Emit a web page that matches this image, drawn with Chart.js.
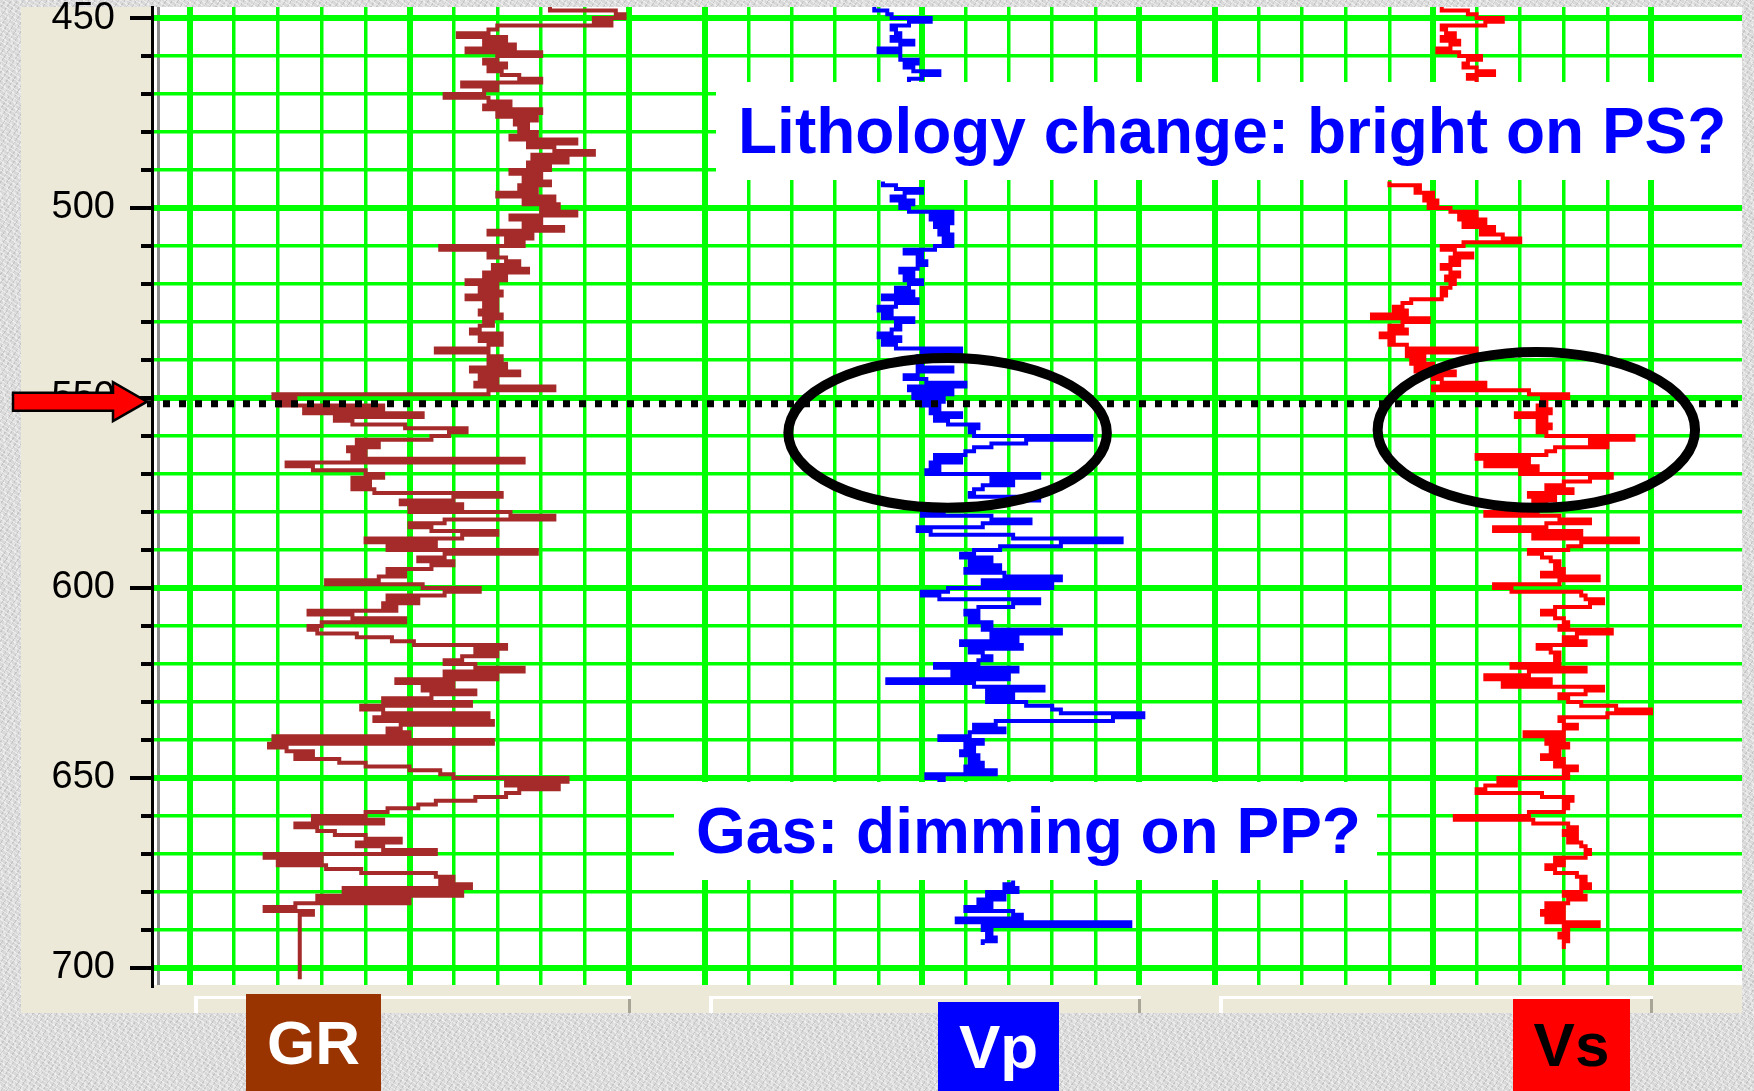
<!DOCTYPE html>
<html>
<head>
<meta charset="utf-8">
<title>Well logs: GR, Vp, Vs</title>
<script src="https://cdn.jsdelivr.net/npm/chart.js@4.4.1/dist/chart.umd.min.js"></script>
<style>
  html, body { margin: 0; padding: 0; }
  body {
    width: 1754px;
    height: 1091px;
    overflow: hidden;
    position: relative;
    background-color: #d9d9d9;
    background-image:
      repeating-linear-gradient(33deg, rgba(255,255,255,0.45) 0 1px, transparent 1px 4px),
      repeating-linear-gradient(-57deg, rgba(150,150,150,0.30) 0 1px, transparent 1px 5px),
      repeating-linear-gradient(81deg, rgba(245,245,245,0.40) 0 2px, transparent 2px 7px);
    font-family: "Liberation Sans", Arial, sans-serif;
  }
  canvas { position: absolute; left: 0; top: 0; }
  .note {
    position: absolute;
    box-sizing: border-box;
    background: #ffffff;
    color: #0000ff;
    font-weight: bold;
    font-size: 64px;
    white-space: nowrap;
    padding-left: 22px;
  }
  .tag {
    position: absolute;
    font-weight: bold;
    font-size: 62px;
    text-align: center;
  }
</style>
</head>
<body>
<canvas id="logChart" width="1754" height="1091"></canvas>

<div class="note" style="left:716px; top:82px; width:1026px; height:98px; line-height:98px;">Lithology change: bright on PS?</div>
<div class="note" style="left:674px; top:782px; width:703px; height:98px; line-height:98px;">Gas: dimming on PP?</div>

<div class="tag" style="left:246px; top:994px; width:135px; height:97px; line-height:97px; background:#993300; color:#ffffff;">GR</div>
<div class="tag" style="left:938px; top:1002px; width:121px; height:89px; line-height:89px; background:#0000ff; color:#ffffff;">Vp</div>
<div class="tag" style="left:1513px; top:999px; width:117px; height:92px; line-height:92px; background:#ff0000; color:#000000;">Vs</div>

<script>
// depth axis (m), reversed
const depthTicks = [450, 460, 470, 480, 490, 500, 510, 520, 530, 540, 550, 560, 570,
    580, 590, 600, 610, 620, 630, 640, 650, 660, 670, 680, 690, 700];
const majorDepths = [450, 500, 550, 600, 650, 700];
const trackTicks = [0, 10, 20, 30, 40, 50, 60, 70, 80, 90, 100];

// logs are sampled every metre from logStart down; null = hidden under a note box
const logStart = 447;
const sampleStep = 1;

const grValues = [
    82, 97, 99, 92, 96, 70, 68, 61, 72, 67,
    74, 63, 80, 70, 67, 72, 68, 71, 75, 80,
    62, 70, 67, 58, 68, 73, 67, 80, 70, 79,
    74, 77, 75, 79, 73, 88, 77, 83, 92, 78,
    86, 77, 82, 73, 80, 76, 82, 75, 79, 70,
    83, 76, 84, 80, 88, 73, 80, 76, 85, 68,
    78, 72, 76, 57, 70, 68, 72, 75, 69, 77,
    67, 72, 63, 70, 66, 71, 63, 70, 67, 70,
    66, 71, 67, 69, 66, 64, 71, 66, 71, 68,
    56, 68, 71, 68, 72, 64, 75, 66, 70, 65,
    83, 68, 19, 24, 20, 44, 26, 53, 33, 37,
    49, 63, 59, 55, 38, 43, 36, 40, 37, 76,
    22, 28, 40, 44, 37, 41, 37, 42, 71, 60,
    48, 62, 50, 73, 83, 58, 50, 55, 70, 62,
    40, 56, 45, 79, 58, 52, 60, 55, 45, 49,
    43, 31, 53, 66, 58, 45, 52, 44, 47, 27,
    37, 49, 30, 27, 29, 38, 46, 51, 72, 65,
    70, 62, 58, 65, 76, 58, 70, 47, 60, 53,
    65, 55, 44, 64, 39, 44, 68, 42, 69, 48,
    45, 50, 19, 69, 18, 22, 28, 24, 34, 40,
    50, 57, 60, 86, 72, 84, 75, 72, 65, 56,
    52, 45, 40, 28, 44, 24, 29, 33, 40, 48,
    38, 44, 56, 17, 30, 20, 31, 39, 56, 60,
    57, 64, 35, 62, 29, 50, 24, 17, 28, 25,
    25, 25, 25, 25, 25, 25, 25, 25, 25, 25,
    25, 25, 25, 25, 25, 25, 25
];

const vpValues = [
    39, 42, 43, 52, 47, 43, 44, 45, 43, 48,
    45, 40, 45, 45, 49, 46, 48, 54, 50, 47,
    47, null, null, null, null, null, null, null, null, null,
    null, null, null, null, null, null, null, null, null, null,
    null, null, null, null, null, null, 41, 44, 50, 46,
    43, 48, 45, 47, 57, 52, 57, 53, 56, 54,
    57, 55, 57, 53, 46, 50, 49, 51, 49, 45,
    48, 46, 50, 47, 44, 48, 41, 49, 44, 40,
    43, 41, 48, 44, 45, 43, 40, 45, 41, 44,
    59, 50, 49, 50, 49, 57, 49, 46, 51, 60,
    47, 57, 48, 55, 50, 54, 52, 59, 53, 56,
    63, 61, 62, 89, 74, 66, 62, 60, 53, 59,
    52, 54, 51, 77, 66, 71, 64, 62, 61, 77,
    70, 64, 55, 50, 66, 75, 64, 49, 52, 71,
    96, 82, 68, 62, 59, 66, 61, 68, 60, 69,
    82, 64, 80, 56, 50, 54, 77, 71, 63, 60,
    63, 61, 66, 64, 82, 66, 72, 59, 73, 61,
    64, 66, 63, 53, 72, 57, 70, 42, 62, 78,
    65, 71, 65, 74, 80, 82, 101, 94, 67, 62,
    69, 61, 54, 64, 60, 62, 59, 63, 61, 64,
    60, 67, 51, 55, 54, 54, null, null, null, null,
    null, null, null, null, null, null, null, null, null, null,
    null, null, null, null, null, null, null, null, null, null,
    71, 69, 72, 65, 69, 63, 66, 60, 71, 73,
    58, 98, 64, 66, 65, 67, 64, 64
];

const vsValues = [
    52, 58, 60, 66, 62, 52, 53, 55, 52, 56,
    54, 51, 56, 61, 58, 57, 60, 64, 58, 60,
    60, null, null, null, null, null, null, null, null, null,
    null, null, null, null, null, null, null, null, null, null,
    null, null, null, null, null, null, 40, 47, 46, 50,
    48, 51, 49, 54, 60, 56, 62, 57, 64, 61,
    66, 70, 57, 52, 55, 59, 54, 56, 52, 54,
    56, 53, 55, 54, 52, 53, 52, 45, 43, 41,
    44, 36, 49, 43, 40, 44, 38, 41, 40, 44,
    60, 44, 48, 45, 50, 46, 55, 50, 52, 62,
    50, 72, 81, 75, 76, 74, 77, 69, 76, 74,
    77, 74, 76, 96, 86, 90, 78, 76, 60, 72,
    62, 74, 70, 91, 86, 80, 76, 82, 72, 78,
    73, 76, 74, 62, 79, 86, 76, 64, 84, 73,
    97, 84, 81, 72, 75, 77, 79, 78, 80, 75,
    88, 79, 64, 68, 84, 85, 89, 86, 78, 75,
    78, 80, 81, 79, 91, 83, 80, 85, 74, 77,
    79, 78, 79, 68, 85, 72, 62, 77, 66, 89,
    85, 79, 81, 84, 92, 100, 90, 79, 80, 83,
    80, 71, 80, 76, 81, 77, 79, 75, 80, 78,
    83, 80, 81, 65, 69, 62, 60, 75, 82, 80,
    81, 80, 72, 55, 73, 81, 83, 80, 83, 81,
    84, 85, 86, 85, 78, 80, 76, 78, 83, 85,
    84, 86, 84, 80, 85, 81, 76, 80, 75, 80,
    76, 88, 80, 81, 79, 81, 80, 80, 80
];

// marked horizon and the two highlighted zones
const markerDepth = 551.5;
const zoneAxes = ["xVP", "xVS"];
const zoneCenterValue = [55.9, 73.7];
const zoneCenterDepth = [559.2, 558.4];
const zoneHalfWidth = [36.7, 36.4];
const zoneHalfDepth = [19.7, 20.5];

const GRID_GREEN = "#00ff00";
const PANEL_BEIGE = "#ece9d8";

function logPoints(values) {
    return values.map((v, i) => ({ x: v, y: logStart + i * sampleStep }));
}

function trackAxis(min, max, weight, edgeValue) {
    const values = edgeValue === undefined ? trackTicks : [edgeValue].concat(trackTicks);
    return {
        type: "linear",
        axis: "x",
        position: "bottom",
        stack: "tracks",
        stackWeight: weight,
        min,
        max,
        afterBuildTicks: (axis) => {
            axis.ticks = values.map((v) => ({ value: v }));
        },
        afterFit: (axis) => {
            axis.height = 0;
            axis.paddingLeft = 0;
            axis.paddingRight = 0;
        },
        ticks: { display: false },
        border: { display: false },
        grid: {
            drawTicks: false,
            color: (ctx) => (ctx.tick && ctx.tick.value < 0 ? "#8c8c8c" : GRID_GREEN),
            lineWidth: (ctx) => {
                if (!ctx.tick) return 3.5;
                if (ctx.tick.value < 0) return 3;
                return ctx.tick.value % 50 === 0 ? 6 : 3.5;
            },
        },
    };
}

function logDataset(label, values, color, axisId) {
    return {
        label,
        data: logPoints(values),
        xAxisID: axisId,
        yAxisID: "y",
        borderColor: color,
        borderWidth: 4,
        pointRadius: 0,
        stepped: "after",
        fill: false,
        spanGaps: false,
        borderJoinStyle: "miter",
        borderCapStyle: "butt",
    };
}

const logDecor = {
    id: "logDecor",
    beforeDraw(chart) {
        const { ctx, chartArea } = chart;
        ctx.save();
        ctx.fillStyle = PANEL_BEIGE;
        ctx.fillRect(21, 7, chartArea.right - 21, 1013 - 7);
        ctx.fillStyle = "#ffffff";
        ctx.fillRect(chartArea.left, chartArea.top, chartArea.right - chartArea.left, chartArea.bottom - chartArea.top);
        ctx.restore();
    },
    afterDatasetsDraw(chart) {
        const { ctx, chartArea, scales } = chart;
        const yScale = scales.y;
        ctx.save();

        // highlighted zones
        ctx.strokeStyle = "#000000";
        ctx.lineWidth = 10;
        zoneAxes.forEach((axisId, i) => {
            const xs = scales[axisId];
            const cx = xs.getPixelForValue(zoneCenterValue[i]);
            const rx = Math.abs(xs.getPixelForValue(zoneCenterValue[i] + zoneHalfWidth[i]) - cx);
            const cy = yScale.getPixelForValue(zoneCenterDepth[i]);
            const ry = Math.abs(yScale.getPixelForValue(zoneCenterDepth[i] + zoneHalfDepth[i]) - cy);
            ctx.beginPath();
            ctx.ellipse(cx, cy, rx, ry, 0, 0, Math.PI * 2);
            ctx.stroke();
        });

        // dotted marker line
        const my = yScale.getPixelForValue(markerDepth);
        ctx.setLineDash([7, 9]);
        ctx.lineWidth = 7;
        ctx.beginPath();
        ctx.moveTo(147, my);
        ctx.lineTo(chartArea.right, my);
        ctx.stroke();
        ctx.restore();
    },
    afterDraw(chart) {
        const { ctx, chartArea, scales } = chart;
        const yScale = scales.y;
        ctx.save();

        // minor depth ticks
        ctx.strokeStyle = "#000000";
        ctx.lineWidth = 4;
        depthTicks.filter((d) => !majorDepths.includes(d)).forEach((d) => {
            const py = Math.round(yScale.getPixelForValue(d));
            ctx.beginPath();
            ctx.moveTo(chartArea.left - 11, py);
            ctx.lineTo(chartArea.left, py);
            ctx.stroke();
        });

        // track header bars under the plot
        ["xGR", "xVP", "xVS"].forEach((id) => {
            const xs = scales[id];
            const x0 = Math.round(xs.getPixelForValue(0)) + 4;
            const x1 = Math.round(xs.getPixelForValue(100)) + 2;
            ctx.fillStyle = "#ffffff";
            ctx.fillRect(x0, 996, x1 - x0, 3);
            ctx.fillRect(x0, 996, 4, 1013 - 996);
            ctx.fillStyle = "#a8a597";
            ctx.fillRect(x1 - 3, 999, 3, 1013 - 999);
        });

        // red arrow pointing at the marker
        const cy = yScale.getPixelForValue(markerDepth) - 2;
        ctx.beginPath();
        ctx.moveTo(13, cy - 9);
        ctx.lineTo(113, cy - 9);
        ctx.lineTo(113, cy - 19.5);
        ctx.lineTo(147, cy);
        ctx.lineTo(113, cy + 19.5);
        ctx.lineTo(113, cy + 9);
        ctx.lineTo(13, cy + 9);
        ctx.closePath();
        ctx.fillStyle = "#ff0000";
        ctx.fill();
        ctx.lineWidth = 2.5;
        ctx.strokeStyle = "#000000";
        ctx.stroke();
        ctx.restore();
    },
};

const logChart = new Chart(document.getElementById("logChart"), {
    type: "line",
    data: {
        datasets: [
            logDataset("GR", grValues, "#a52a2a", "xGR"),
            logDataset("Vp", vpValues, "#0000ff", "xVP"),
            logDataset("Vs", vsValues, "#ff0000", "xVS"),
        ],
    },
    options: {
        responsive: false,
        devicePixelRatio: 1,
        animation: false,
        events: [],
        indexAxis: "y",
        layout: { padding: { left: 0, top: 7, right: 12, bottom: 106 } },
        plugins: {
            legend: { display: false },
            tooltip: { enabled: false },
        },
        scales: {
            xGR: trackAxis(-8.66, 108.66, 515, -7.29),
            xVP: trackAxis(-8.76, 108.99, 511),
            xVS: trackAxis(-8.49, 120.87, 564),
            y: {
                type: "linear",
                axis: "y",
                position: "left",
                reverse: true,
                min: 447.1,
                max: 704.5,
                afterBuildTicks: (axis) => {
                    axis.ticks = depthTicks.map((v) => ({ value: v }));
                },
                afterFit: (axis) => {
                    axis.width = 152;
                    axis.paddingTop = 0;
                    axis.paddingBottom = 0;
                },
                ticks: {
                    autoSkip: false,
                    padding: 15,
                    color: "#000000",
                    font: { family: "Liberation Sans", size: 38 },
                    callback: (v) => (majorDepths.includes(v) ? String(v) : ""),
                },
                grid: {
                    color: GRID_GREEN,
                    lineWidth: (ctx) => (ctx.tick && majorDepths.includes(ctx.tick.value) ? 6 : 3.5),
                    tickLength: 22,
                    tickWidth: 4,
                    tickColor: (ctx) => (ctx.tick && majorDepths.includes(ctx.tick.value) ? "#000000" : "rgba(0,0,0,0)"),
                },
                border: { display: true, color: "#000000", width: 3 },
            },
        },
    },
    plugins: [logDecor],
});
</script>
</body>
</html>
